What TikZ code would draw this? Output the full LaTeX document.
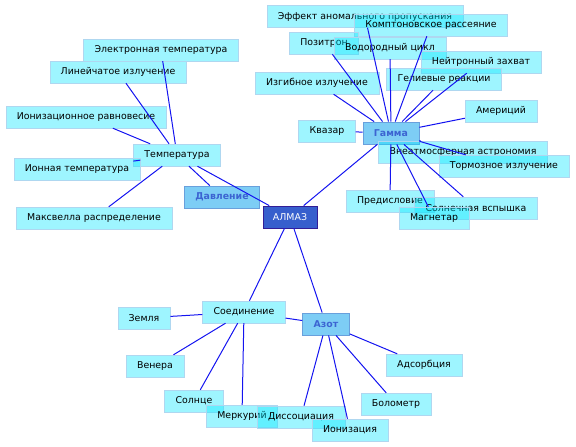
\documentclass[tikz,border=0pt]{standalone}
\usepackage{fontspec}
\setmainfont{DejaVu Sans}
\usepackage{tikz}
\usetikzlibrary{positioning}
\definecolor{leaffill}{RGB}{0,230,255}
\definecolor{leafline}{RGB}{175,215,240}
\definecolor{hubfill}{RGB}{125,205,245}
\definecolor{hubline}{RGB}{105,160,220}
\definecolor{hubtext}{RGB}{60,100,210}
\definecolor{rootfill}{RGB}{55,95,205}
\definecolor{rootline}{RGB}{50,30,150}
\definecolor{edgecol}{RGB}{20,20,240}
\tikzstyle{leaf}=[rectangle, draw=leafline, fill=leaffill, fill opacity=0.38, text opacity=1,
        inner xsep=11pt, minimum height=22pt, font=\fontsize{9.4}{10}\selectfont, text=black]
\tikzstyle{hub}=[rectangle, draw=hubline, fill=hubfill, thick,
        inner xsep=11pt, minimum height=22pt, font=\fontsize{9.4}{10}\selectfont\bfseries, text=hubtext]
\tikzstyle{root}=[rectangle, draw=rootline, fill=rootfill, thick,
        inner xsep=10pt, minimum height=22pt, font=\fontsize{9.4}{10}\selectfont, text=white]
\tikzstyle{link}=[edgecol, line width=1pt]

\begin{document}
\begin{tikzpicture}[x=1pt, y=-1pt]
	\useasboundingbox (0,0) rectangle (576,447);

	% centre
	\node (almaz) [root] at (290,217) {АЛМАЗ};

	% Temperature group
	\node (temp) [leaf] at (177,155) {Температура};
	\node (davl) [hub] at (222,197) {Давление};
	\node (eltemp) [leaf] at (161,50) {Электронная температура};
	\node (lineich) [leaf] at (118,72) {Линейчатое излучение};
	\node (ionrav) [leaf] at (86,117) {Ионизационное равновесие};
	\node (iontemp) [leaf] at (77,169) {Ионная температура};
	\node (maxw) [leaf] at (94,218) {Максвелла распределение};

	% Gamma group
	\node (gamma) [hub] at (391,133) {Гамма};
	\node (effekt) [leaf] at (365,16.5) {Эффект аномального пропускания};
	\node (kompt) [leaf] at (431,25) {Комптоновское рассеяние};
	\node (pozitr) [leaf] at (324,43) {Позитрон};
	\node (vodor) [leaf] at (390,48) {Водородный цикл};
	\node (neitr) [leaf] at (481,62) {Нейтронный захват};
	\node (izgib) [leaf] at (317,83) {Изгибное излучение};
	\node (geliev) [leaf] at (444,79) {Гелиевые реакции};
	\node (amer) [leaf] at (501,111) {Америций};
	\node (kvazar) [leaf] at (327,131) {Квазар};
	\node (vneatm) [leaf] at (463,152) {Внеатмосферная астрономия};
	\node (torm) [leaf] at (504,166) {Тормозное излучение};
	\node (predisl) [leaf] at (390,201) {Предисловие};
	\node (solnvsp) [leaf] at (476,208) {Солнечная вспышка};
	\node (magnet) [leaf] at (434,218) {Магнетар};

	% Compound / Nitrogen group
	\node (soed) [leaf] at (244,312) {Соединение};
	\node (azot) [hub] at (326,324) {Азот};
	\node (zemlya) [leaf] at (144,318) {Земля};
	\node (venera) [leaf] at (155,366) {Венера};
	\node (solnce) [leaf] at (194,401) {Солнце};
	\node (merk) [leaf] at (242,416) {Меркурий};
	\node (dissoc) [leaf] at (301,417) {Диссоциация};
	\node (ioniz) [leaf] at (350,430) {Ионизация};
	\node (bolom) [leaf] at (396,404) {Болометр};
	\node (adsorb) [leaf] at (424,365) {Адсорбция};

\draw[link] (almaz) -- (gamma);
\draw[link] (almaz) -- (temp);
\draw[link] (almaz) -- (soed);
\draw[link] (almaz) -- (azot);

\foreach \leafname in {davl,eltemp,lineich,ionrav,iontemp,maxw}
	\draw[link] (temp) -- (\leafname);

\foreach \leafname in {effekt,kompt,pozitr,vodor,neitr,izgib,geliev,amer,kvazar,vneatm,torm,predisl,solnvsp,magnet}
	\draw[link] (gamma) -- (\leafname);

\foreach \leafname in {zemlya,venera,solnce,merk,azot}
	\draw[link] (soed) -- (\leafname);

\foreach \leafname in {dissoc,ioniz,bolom,adsorb}
	\draw[link] (azot) -- (\leafname);

\end{tikzpicture}
\end{document}
